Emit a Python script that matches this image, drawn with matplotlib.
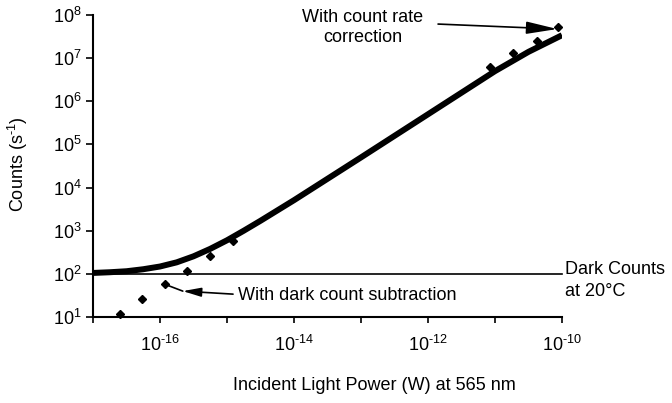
import numpy as np
import matplotlib
matplotlib.use("Agg")
import matplotlib.pyplot as plt
from matplotlib.ticker import FixedLocator, FixedFormatter, NullLocator

plt.rcParams['font.family'] = ['Liberation Sans', 'DejaVu Sans']
plt.rcParams['mathtext.fontset'] = 'custom'
plt.rcParams['mathtext.rm'] = 'Liberation Sans'
plt.rcParams['mathtext.it'] = 'Liberation Sans'
plt.rcParams['axes.unicode_minus'] = False

# ---- data ----
# solid curve: measured counts (no correction)
curve_power = [1e-17, 10**-16.75, 10**-16.5, 10**-16.25, 1e-16, 10**-15.75, 10**-15.5,
               10**-15.25, 1e-15, 10**-14.75, 10**-14.5, 1e-14, 1e-13, 1e-12, 1e-11,
               10**-10.5, 1e-10]
curve_counts = [105, 109, 115, 128, 148, 185, 255,
                380, 600, 1.0e3, 1.7e3, 5.1e3, 5.0e4, 5.0e5, 5.0e6,
                1.4e7, 3.4e7]

# visible points: with dark count subtraction / count rate correction
dot_power = [10**-16.6, 10**-16.27, 10**-15.93, 10**-15.6, 10**-15.25, 10**-14.91,
             10**-11.07, 10**-10.73, 10**-10.37, 10**-10.06]
dot_counts = [12, 26, 58, 117, 260, 590,
              6.2e6, 1.3e7, 2.5e7, 5.2e7]

dark_counts = 100

x_ticks = [1e-17, 1e-16, 1e-15, 1e-14, 1e-13, 1e-12, 1e-11, 1e-10]
x_tick_labels = ['', r'$10^{\text{-}16}$', '', r'$10^{\text{-}14}$', '',
                 r'$10^{\text{-}12}$', '', r'$10^{\text{-}10}$']
y_ticks = [1e1, 1e2, 1e3, 1e4, 1e5, 1e6, 1e7, 1e8]
y_tick_labels = ['$10^{1}$', '$10^{2}$', '$10^{3}$', '$10^{4}$',
                 '$10^{5}$', '$10^{6}$', '$10^{7}$', '$10^{8}$']

W, H = 672, 403
FS = 13
fig = plt.figure(figsize=(W / 100, H / 100), dpi=100)
L, R, B, T = 93, 562, 317, 15
ax = fig.add_axes([L / W, 1 - B / H, (R - L) / W, (B - T) / H])
ax.set_xscale('log')
ax.set_yscale('log')
ax.set_xlim(1e-17, 1e-10)
ax.set_ylim(1e1, 1e8)

ax.axhline(dark_counts, color='black', lw=1.2, xmin=0, xmax=1, clip_on=False, zorder=2)
ax.plot(dot_power, dot_counts, linestyle='none', marker='D', ms=4.5, color='black',
        clip_on=False, zorder=2.5)
ax.plot(curve_power, curve_counts, color='black', lw=4.3, solid_capstyle='butt', zorder=3)

for s in ['top', 'right']:
    ax.spines[s].set_visible(False)
for s in ['left', 'bottom']:
    ax.spines[s].set_linewidth(1.5)

ax.xaxis.set_major_locator(FixedLocator(x_ticks))
ax.xaxis.set_major_formatter(FixedFormatter(x_tick_labels))
ax.xaxis.set_minor_locator(NullLocator())
ax.yaxis.set_major_locator(FixedLocator(y_ticks))
ax.yaxis.set_major_formatter(FixedFormatter(y_tick_labels))
ax.yaxis.set_minor_locator(NullLocator())
ax.tick_params(axis='x', direction='out', length=4, width=1.2, pad=9, labelsize=FS)
ax.tick_params(axis='y', direction='out', length=5, width=1.2, pad=3, labelsize=FS)

# labels
fig.text(18 / W, 1 - 164 / H, r'Counts (s$^{\text{-}1}$)', rotation=90, ha='center',
         va='center', fontsize=FS)
fig.text(374 / W, 1 - 385 / H, 'Incident Light Power (W) at 565 nm', ha='center',
         va='center', fontsize=FS)

# annotations
fig.text(363 / W, 1 - 18 / H, 'With count rate', ha='center', va='center', fontsize=FS)
fig.text(363 / W, 1 - 38 / H, 'correction', ha='center', va='center', fontsize=FS)
ax.annotate('', xy=(10**-10.07, 10**7.675), xytext=(10**-11.85, 10**7.79),
            arrowprops=dict(arrowstyle='-|>,head_length=1.9,head_width=0.38',
                            mutation_scale=10, color='black', lw=1.2,
                            shrinkA=0, shrinkB=0))

fig.text(565 / W, 1 - 270 / H, 'Dark Counts', ha='left', va='center', fontsize=FS)
fig.text(565 / W, 1 - 292 / H, 'at 20°C', ha='left', va='center', fontsize=FS)

fig.text(238 / W, 1 - 295 / H, 'With dark count subtraction', ha='left', va='center',
         fontsize=FS)
ax.annotate('', xy=(10**-15.66, 10**1.60), xytext=(10**-14.91, 10**1.53),
            arrowprops=dict(arrowstyle='-|>,head_length=1.1,head_width=0.27',
                            mutation_scale=10, color='black', lw=1.2,
                            shrinkA=0, shrinkB=0))
ax.annotate('', xy=(10**-15.93, 10**1.76), xytext=(10**-15.66, 10**1.60),
            arrowprops=dict(arrowstyle='-', color='black', lw=1.2, shrinkA=0, shrinkB=0))

fig.savefig('out.png', dpi=100)
